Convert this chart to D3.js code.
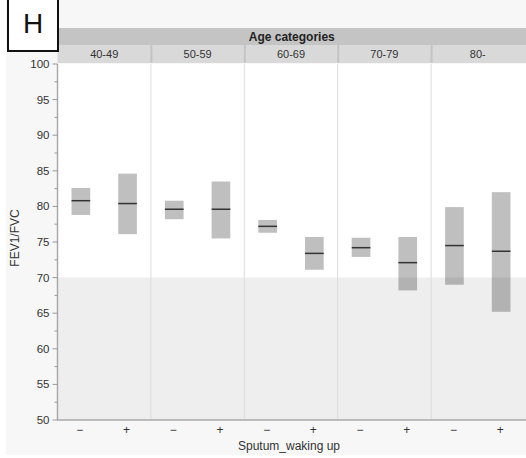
<!DOCTYPE html>
<html><head><meta charset="utf-8">
<script src="https://cdn.jsdelivr.net/npm/d3@7"></script>
<style>html,body{margin:0;padding:0;background:#fff;}svg{display:block;font-family:"Liberation Sans",Arial,sans-serif;}</style>
</head><body>
<script>
const ageGroups = ["40-49","50-59","60-69","70-79","80-"];
const sputumLevels = ["−","+"];
// per age group: [minus, plus]
const boxLow  = [[78.8,76.1],[78.2,75.5],[76.3,71.1],[72.9,68.2],[69.0,65.2]];
const boxHigh = [[82.6,84.6],[80.8,83.5],[78.1,75.7],[75.6,75.7],[79.9,82.0]];
const boxMid  = [[80.8,80.4],[79.6,79.6],[77.2,73.4],[74.2,72.1],[74.5,73.7]];
const yTicks = [50,55,60,65,70,75,80,85,90,95,100];
const refLine = 70;

(function(){
const W=526,H=458;
const pL=57.5, pR=524.5, pT=64, pB=420;
const svg=d3.select("body").append("svg").attr("width",W).attr("height",H);
svg.append("rect").attr("x",6).attr("y",0).attr("width",W-6).attr("height",455).attr("fill","#f7f7f7");

const y=d3.scaleLinear().domain([50,100]).range([pB,pT]);
const xo=d3.scaleBand().domain(ageGroups).range([pL,pR]).padding(0);
const xi=d3.scaleBand().domain(sputumLevels).range([0,xo.bandwidth()]).paddingInner(0.6).paddingOuter(0.3);

// plot background
svg.append("rect").attr("x",pL).attr("y",pT).attr("width",W-pL).attr("height",y(refLine)-pT).attr("fill","#fff");
svg.append("rect").attr("x",pL).attr("y",y(refLine)).attr("width",W-pL).attr("height",pB-y(refLine)).attr("fill","#eeeeee");

// panel dividers
ageGroups.slice(1).forEach(g=>{
  svg.append("line").attr("x1",xo(g)).attr("x2",xo(g)).attr("y1",pT).attr("y2",pB).attr("stroke","#dcdcdc").attr("stroke-width",1);
});

// header
svg.append("rect").attr("x",pL).attr("y",28).attr("width",W-pL).attr("height",17).attr("fill","#c4c4c4");
svg.append("text").attr("x",(pL+W)/2).attr("y",40.5).attr("text-anchor","middle").attr("font-size",12).attr("font-weight","bold").attr("fill","#222").text("Age categories");
svg.append("rect").attr("x",pL).attr("y",45).attr("width",W-pL).attr("height",18).attr("fill","#d9d9d9");
ageGroups.slice(1).forEach(g=>{
  svg.append("rect").attr("x",xo(g)-0.5).attr("y",45).attr("width",2).attr("height",18).attr("fill","#c4c4c4");
});
ageGroups.forEach(g=>{
  svg.append("text").attr("x",xo(g)+xo.bandwidth()/2).attr("y",57.5).attr("text-anchor","middle").attr("font-size",11).attr("fill","#333").text(g);
});

// boxes
ageGroups.forEach((g,gi)=>{
  sputumLevels.forEach((s,si)=>{
    const x0=xo(g)+xi(s);
    svg.append("rect").attr("x",x0).attr("y",y(boxHigh[gi][si])).attr("width",xi.bandwidth())
      .attr("height",y(boxLow[gi][si])-y(boxHigh[gi][si])).attr("fill","#000").attr("fill-opacity",0.25);
    svg.append("line").attr("x1",x0).attr("x2",x0+xi.bandwidth()).attr("y1",y(boxMid[gi][si])).attr("y2",y(boxMid[gi][si]))
      .attr("stroke","#333").attr("stroke-width",1.5);
  });
});

// y axis
svg.append("line").attr("x1",pL).attr("x2",pL).attr("y1",pT).attr("y2",pB+0.5).attr("stroke","#aaa").attr("stroke-width",1.5);
const minor=d3.range(52.5,100,5);
minor.forEach(v=>svg.append("line").attr("x1",pL-3).attr("x2",pL).attr("y1",y(v)).attr("y2",y(v)).attr("stroke","#999"));
yTicks.forEach(v=>{
  svg.append("line").attr("x1",pL-5).attr("x2",pL).attr("y1",y(v)).attr("y2",y(v)).attr("stroke","#999");
  svg.append("text").attr("x",pL-8).attr("y",y(v)+4).attr("text-anchor","end").attr("font-size",11.5).attr("fill","#333").text(v);
});
svg.append("text").attr("transform",`translate(19,${(pT+pB)/2-4}) rotate(-90)`).attr("text-anchor","middle").attr("font-size",12).attr("fill","#333").text("FEV1/FVC");

// x axis
svg.append("line").attr("x1",pL).attr("x2",W).attr("y1",pB).attr("y2",pB).attr("stroke","#aaa").attr("stroke-width",1.5);
ageGroups.forEach(g=>{
  sputumLevels.forEach(s=>{
    svg.append("text").attr("x",xo(g)+xi(s)+xi.bandwidth()/2-1).attr("y",434).attr("text-anchor","middle").attr("font-size",12).attr("fill","#333").text(s);
  });
});
svg.append("text").attr("x",289).attr("y",450).attr("text-anchor","middle").attr("font-size",12).attr("fill","#333").text("Sputum_waking up");

// panel label
svg.append("rect").attr("x",8).attr("y",-2).attr("width",50).attr("height",53).attr("fill","#fff").attr("stroke","#111").attr("stroke-width",2);
svg.append("text").attr("x",33).attr("y",33).attr("text-anchor","middle").attr("font-size",28).attr("fill","#111").text("H");
})();
</script>
</body></html>
